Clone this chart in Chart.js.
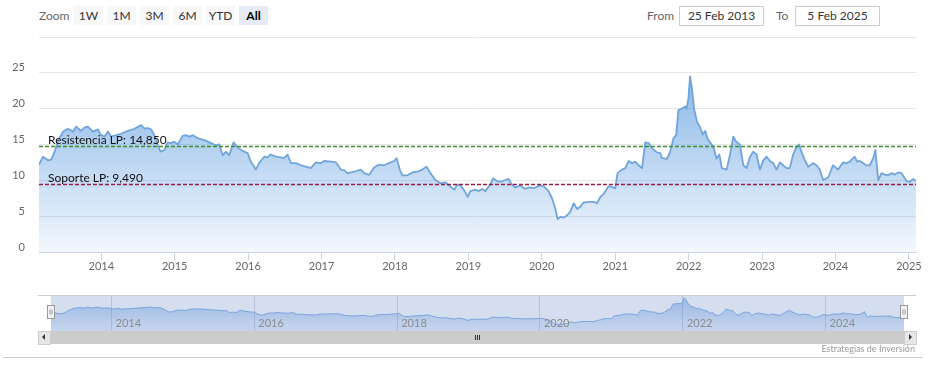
<!DOCTYPE html>
<html>
<head>
<meta charset="utf-8">
<script src="https://cdn.jsdelivr.net/npm/chart.js@4.4.1/dist/chart.umd.min.js"></script>
<style>
  body { margin: 0; width: 931px; height: 373px; position: relative; overflow: hidden; background: #fff; font-family: Lato, sans-serif; }
  .abs { position: absolute; }
  .lbl { position: absolute; top: 6px; height: 19px; line-height: 19px; font-size: 12px; color: #666; }
  .btn { position: absolute; top: 6px; width: 29px; height: 19px; line-height: 19px; text-align: center; font-size: 12px; color: #333; background: #f7f7f7; }
  .btn.on { background: #e6ebf5; font-weight: bold; color: #000; }
  .inp { position: absolute; top: 6px; width: 83px; height: 18px; line-height: 18px; border: 1px solid #ccc; text-align: center; font-size: 12px; color: #333; }
</style>
</head>
<body>
<div class="lbl" style="left:39px">Zoom</div>
<div class="btn" style="left:74px">1W</div>
<div class="btn" style="left:107px">1M</div>
<div class="btn" style="left:140px">3M</div>
<div class="btn" style="left:173px">6M</div>
<div class="btn" style="left:206px">YTD</div>
<div class="btn on" style="left:239px">All</div>
<div class="lbl" style="left:647px">From</div>
<div class="inp" style="left:679px">25 Feb 2013</div>
<div class="lbl" style="left:776px">To</div>
<div class="inp" style="left:795px">5 Feb 2025</div>

<canvas id="mainChart" class="abs" style="left:0;top:0" width="931" height="290"></canvas>
<canvas id="navChart" class="abs" style="left:0;top:290px" width="931" height="45"></canvas>

<!-- scrollbar -->
<div class="abs" style="left:38px;top:331px;width:878px;height:13px;background:#f2f2f2"></div>
<div class="abs" style="left:50px;top:331px;width:854px;height:13px;background:#cccccc"></div>
<div class="abs" style="left:38px;top:331px;width:11px;height:12px;background:#e6e6e6;border:1px solid #cccccc"></div>
<div class="abs" style="left:42px;top:334px;width:0;height:0;border-top:3px solid transparent;border-bottom:3px solid transparent;border-right:3px solid #333"></div>
<div class="abs" style="left:904px;top:331px;width:11px;height:12px;background:#e6e6e6;border:1px solid #cccccc"></div>
<div class="abs" style="left:909px;top:334px;width:0;height:0;border-top:3px solid transparent;border-bottom:3px solid transparent;border-left:3px solid #333"></div>
<div class="abs" style="left:475px;top:335px;width:1px;height:5px;background:#333"></div>
<div class="abs" style="left:477px;top:335px;width:1px;height:5px;background:#333"></div>
<div class="abs" style="left:479px;top:335px;width:1px;height:5px;background:#333"></div>

<div class="abs" style="right:16px;top:343px;font-size:9px;color:#999">Estrategias de Inversión</div>
<div class="abs" style="left:3px;top:357px;width:920px;height:1px;background:#cccccc"></div>

<script>
  const startDate = '2013-02-25';
  const endDate = '2025-02-05';

  const dates = [
    '2013-02-25', '2013-03-17', '2013-04-10', '2013-04-27', '2013-05-14', '2013-05-31', '2013-06-25', '2013-07-19',
    '2013-08-13', '2013-08-29', '2013-09-23', '2013-10-10', '2013-10-26', '2013-11-20', '2013-12-15',
    '2014-01-01', '2014-01-17', '2014-02-03', '2014-02-19', '2014-03-16', '2014-04-10', '2014-05-13', '2014-06-15',
    '2014-07-18', '2014-08-04', '2014-08-20', '2014-09-06', '2014-09-22', '2014-10-09', '2014-10-22', '2014-11-10',
    '2014-11-27', '2014-12-13', '2014-12-30',
    '2015-01-16', '2015-02-10', '2015-02-26', '2015-03-15', '2015-04-01', '2015-04-25', '2015-05-28', '2015-07-01',
    '2015-07-25', '2015-08-11', '2015-08-28', '2015-09-13', '2015-09-29', '2015-10-21', '2015-11-10', '2015-12-05',
    '2015-12-30',
    '2016-01-15', '2016-02-09', '2016-02-25', '2016-03-21', '2016-04-07', '2016-04-23', '2016-05-18', '2016-06-12',
    '2016-06-29', '2016-07-16', '2016-08-01', '2016-08-26', '2016-09-20', '2016-10-15', '2016-11-08', '2016-12-03',
    '2016-12-28',
    '2017-01-13', '2017-02-16', '2017-03-13', '2017-04-07', '2017-04-23', '2017-05-10', '2017-06-12', '2017-07-15',
    '2017-07-31', '2017-08-25', '2017-09-19', '2017-10-13', '2017-11-07', '2017-12-02', '2017-12-27',
    '2018-01-09', '2018-01-26', '2018-02-07', '2018-03-04', '2018-03-28', '2018-04-22', '2018-05-17', '2018-06-07',
    '2018-06-27', '2018-07-21', '2018-08-15', '2018-09-09', '2018-10-04', '2018-10-24', '2018-11-06', '2018-11-23',
    '2018-12-09', '2018-12-29',
    '2019-01-11', '2019-02-05', '2019-02-21', '2019-03-10', '2019-03-26', '2019-04-20', '2019-05-04', '2019-05-24',
    '2019-06-09', '2019-07-04', '2019-07-20', '2019-08-06', '2019-08-23', '2019-09-16', '2019-10-11', '2019-10-28',
    '2019-11-22', '2019-12-25',
    '2020-01-10', '2020-02-04', '2020-02-21', '2020-03-08', '2020-03-20', '2020-04-03', '2020-04-19', '2020-05-06',
    '2020-05-22', '2020-06-08', '2020-06-25', '2020-07-11', '2020-07-27', '2020-08-21', '2020-09-15', '2020-10-02',
    '2020-10-19', '2020-11-04', '2020-11-29',
    '2021-01-01', '2021-01-12', '2021-02-03', '2021-02-20', '2021-03-08', '2021-03-25', '2021-04-10', '2021-04-27',
    '2021-05-14', '2021-05-30', '2021-06-16', '2021-07-02', '2021-07-27', '2021-08-13', '2021-08-21', '2021-09-15',
    '2021-10-01', '2021-10-18', '2021-10-31', '2021-11-11', '2021-11-28', '2021-12-14', '2021-12-22', '2021-12-31',
    '2022-01-08', '2022-01-17', '2022-01-28', '2022-02-11', '2022-02-27', '2022-03-12', '2022-03-24', '2022-04-04',
    '2022-04-17', '2022-05-04', '2022-05-20', '2022-06-03', '2022-06-15', '2022-07-09', '2022-07-26', '2022-08-11',
    '2022-08-28', '2022-09-13', '2022-09-30', '2022-10-16', '2022-11-02', '2022-11-18', '2022-12-05', '2022-12-21',
    '2023-01-07', '2023-01-24', '2023-02-09', '2023-02-26', '2023-03-14', '2023-03-31', '2023-04-16', '2023-05-03',
    '2023-05-19', '2023-06-05', '2023-06-22', '2023-07-05', '2023-07-16', '2023-08-02', '2023-08-19', '2023-09-12',
    '2023-09-29', '2023-10-15', '2023-11-01', '2023-11-26', '2023-12-20',
    '2024-01-14', '2024-02-08', '2024-02-25', '2024-03-12', '2024-04-06', '2024-04-18', '2024-05-01', '2024-05-18',
    '2024-06-03', '2024-06-20', '2024-07-07', '2024-07-18', '2024-08-01', '2024-08-18', '2024-09-03', '2024-09-20',
    '2024-10-06', '2024-10-23', '2024-11-08', '2024-11-25', '2024-12-20',
    '2025-01-05', '2025-01-22', '2025-02-05'
  ];

  const prices = [
    12.2, 13.3, 12.8, 12.9, 14.0, 15.6, 16.8, 17.2,
    16.8, 17.5, 16.9, 17.4, 17.5, 16.8, 17.1,
    16.3, 16.1, 16.8, 16.1, 16.3, 16.5, 16.9, 17.2,
    17.7, 17.2, 17.3, 17.1, 16.3, 14.9, 14.0, 14.2,
    15.3, 15.2, 15.4,
    15.0, 16.2, 16.3, 16.1, 16.3, 15.9, 15.6, 15.2,
    14.9, 15.0, 13.5, 14.0, 13.5, 15.3, 14.6, 14.1,
    13.8,
    12.6, 11.5, 12.4, 13.3, 13.2, 13.6, 13.3, 13.2,
    13.1, 13.6, 12.4, 12.4, 12.1, 11.9, 11.7, 12.5,
    12.4,
    12.7, 12.6, 12.5, 11.5, 11.4, 11.0, 11.2, 11.5,
    11.0, 10.75, 11.8, 12.2, 12.1, 12.4, 12.7,
    13.1, 11.4, 10.7, 10.7, 11.1, 11.2, 11.5, 11.9,
    11.0, 10.05, 9.6, 9.7, 9.1, 8.7, 9.4, 9.3,
    8.7, 7.7,
    8.5, 8.7, 8.5, 8.8, 8.5, 9.4, 10.3, 9.9,
    9.8, 10.05, 10.2, 9.4, 9.0, 9.3, 8.8, 9.0,
    8.9, 9.3,
    9.2, 8.5, 7.5, 6.1, 4.6, 4.9, 4.8, 5.1,
    5.6, 6.8, 6.0, 6.3, 6.9, 7.0, 7.0, 6.8,
    7.7, 8.1, 9.2,
    8.9, 11.0, 11.5, 11.7, 12.7, 12.4, 12.6, 12.1,
    11.7, 15.3, 15.2, 14.5, 13.9, 13.8, 13.1, 13.0,
    14.0, 15.9, 16.3, 19.8, 20.0, 20.3, 20.0, 21.5,
    24.5, 22.9, 20.0, 18.2, 17.4, 16.4, 16.9, 15.9,
    15.3, 14.7, 13.0, 13.6, 11.7, 11.5, 13.6, 16.1,
    15.3, 15.0, 12.1, 11.7, 13.3, 14.0, 13.6, 11.5,
    12.8, 13.3, 12.7, 12.4, 11.5, 12.5, 12.1, 11.7,
    11.7, 13.6, 14.7, 15.0, 14.0, 12.8, 11.9, 12.4,
    12.1, 11.5, 10.05, 10.4, 12.1,
    11.5, 12.5, 12.4, 12.6, 13.3, 12.6, 12.7, 12.4,
    12.1, 12.1, 13.1, 14.25, 10.05, 11.0, 10.8, 10.7,
    11.0, 10.8, 11.1, 11.0, 9.9,
    9.8, 10.2, 9.9
  ];

  const yTicks = [0, 5, 10, 15, 20, 25, 30];
  const yearTicks = [2014, 2015, 2016, 2017, 2018, 2019, 2020, 2021, 2022, 2023, 2024, 2025];
  const navYearTicks = [2014, 2016, 2018, 2020, 2022, 2024];

  const resistance = 14.85;
  const support = 9.49;
  const resistanceLabel = 'Resistencia LP: 14,850';
  const supportLabel = 'Soporte LP: 9,490';

  Chart.defaults.font.family = 'Lato';
  Chart.defaults.color = '#666';

  const points = dates.map((d, i) => ({ x: Date.parse(d), y: prices[i] }));
  const yearStart = y => Date.UTC(y, 0, 1);

  // dashed support / resistance lines with their labels
  const plotLines = {
    id: 'plotLines',
    afterDatasetsDraw(chart) {
      const { ctx, chartArea: a, scales: { y } } = chart;
      [
        [resistance, '#3f8f2f', resistanceLabel],
        [support, '#9b1c46', supportLabel]
      ].forEach(([v, color, text]) => {
        const py = Math.round(y.getPixelForValue(v)) + 0.5;
        ctx.save();
        ctx.strokeStyle = color;
        ctx.lineWidth = 1.5;
        ctx.setLineDash([4, 2]);
        ctx.beginPath();
        ctx.moveTo(a.left, py);
        ctx.lineTo(a.right, py);
        ctx.stroke();
        ctx.setLineDash([]);
        ctx.fillStyle = '#111';
        ctx.font = '12px Lato';
        ctx.fillText(text, a.left + 9, py - 3);
        ctx.restore();
      });
    }
  };

  let mainCanvas = document.getElementById('mainChart');
  let mainChart = new Chart(mainCanvas, {
    type: 'line',
    data: {
      datasets: [{
        data: points,
        borderColor: '#6fa5dc',
        borderWidth: 1.8,
        borderJoinStyle: 'round',
        pointRadius: 0,
        tension: 0,
        fill: 'origin',
        backgroundColor: function (context) {
          const { ctx, chartArea } = context.chart;
          if (!chartArea) return 'rgba(91,155,224,0.4)';
          const g = ctx.createLinearGradient(0, chartArea.top, 0, chartArea.bottom);
          g.addColorStop(0, 'rgba(91,155,224,0.85)');
          g.addColorStop(1, 'rgba(91,155,224,0.08)');
          return g;
        }
      }]
    },
    options: {
      responsive: false,
      animation: false,
      devicePixelRatio: 1,
      layout: { padding: { left: 0, top: 37, right: 15, bottom: 0 } },
      plugins: { legend: { display: false }, tooltip: { enabled: false } },
      scales: {
        x: {
          type: 'linear',
          min: Date.parse(startDate),
          max: Date.parse(endDate),
          afterBuildTicks: scale => { scale.ticks = yearTicks.map(y => ({ value: yearStart(y) })); },
          afterFit: scale => { scale.height = 38; },
          grid: { drawOnChartArea: false, drawTicks: true, tickLength: 8, color: '#ccd6eb' },
          border: { color: '#ccd6eb' },
          ticks: {
            autoSkip: false, maxRotation: 0, padding: 0, color: '#666', font: { size: 11 },
            callback: v => new Date(v).getUTCFullYear()
          }
        },
        y: {
          min: 0,
          max: 30,
          afterBuildTicks: scale => { scale.ticks = yTicks.map(v => ({ value: v })); },
          afterFit: scale => { scale.width = 39; },
          grid: { color: '#e6e6e6', drawTicks: false },
          border: { display: false },
          ticks: {
            padding: 14, labelOffset: -5, color: '#666', font: { size: 11 },
            callback: v => (v === 30 ? '' : v)
          }
        }
      }
    },
    plugins: [plotLines]
  });

  // navigator: background mask, year labels, outline and handles
  const navigatorDecor = {
    id: 'navigatorDecor',
    beforeDraw(chart) {
      const { ctx, chartArea: a } = chart;
      ctx.save();
      ctx.fillStyle = '#d5deef';
      ctx.fillRect(a.left, a.top, a.right - a.left, a.bottom - a.top);
      ctx.restore();
    },
    afterDatasetsDraw(chart) {
      const { ctx, chartArea: a, scales: { x } } = chart;
      ctx.save();
      ctx.fillStyle = '#8c8c8c';
      ctx.font = '11px Lato';
      ctx.textBaseline = 'middle';
      navYearTicks.forEach(yr => {
        ctx.fillText(String(yr), x.getPixelForValue(yearStart(yr)) + 4, a.bottom - 8);
      });
      ctx.restore();
    },
    afterDraw(chart) {
      const { ctx, chartArea: a } = chart;
      ctx.save();
      ctx.strokeStyle = '#cccccc';
      ctx.lineWidth = 1;
      ctx.beginPath();
      ctx.moveTo(38, a.top + 0.5);
      ctx.lineTo(916, a.top + 0.5);
      ctx.stroke();
      [a.left, a.right].forEach(hx => {
        const x = Math.round(hx) - 3.5;
        const y = a.top + 10.5;
        ctx.fillStyle = '#f2f2f2';
        ctx.strokeStyle = '#999';
        ctx.fillRect(x, y, 7, 13);
        ctx.strokeRect(x, y, 7, 13);
        ctx.beginPath();
        ctx.moveTo(x + 2.5, y + 4); ctx.lineTo(x + 2.5, y + 9);
        ctx.moveTo(x + 4.5, y + 4); ctx.lineTo(x + 4.5, y + 9);
        ctx.stroke();
      });
      ctx.restore();
    }
  };

  let navCanvas = document.getElementById('navChart');
  let navChart = new Chart(navCanvas, {
    type: 'line',
    data: {
      datasets: [{
        data: points,
        borderColor: '#7aa5dc',
        borderWidth: 1,
        pointRadius: 0,
        tension: 0,
        fill: 'origin',
        backgroundColor: function (context) {
          const { ctx, chartArea } = context.chart;
          if (!chartArea) return 'rgba(100,150,220,0.3)';
          const g = ctx.createLinearGradient(0, chartArea.top, 0, chartArea.bottom);
          g.addColorStop(0, 'rgba(100,150,220,0.55)');
          g.addColorStop(1, 'rgba(100,150,220,0.12)');
          return g;
        }
      }]
    },
    options: {
      responsive: false,
      animation: false,
      devicePixelRatio: 1,
      layout: { padding: { left: 51, top: 5, right: 27, bottom: 0 } },
      plugins: { legend: { display: false }, tooltip: { enabled: false } },
      scales: {
        x: {
          type: 'linear',
          min: Date.parse(startDate),
          max: Date.parse(endDate),
          afterBuildTicks: scale => { scale.ticks = navYearTicks.map(y => ({ value: yearStart(y) })); },
          afterFit: scale => { scale.height = 4; },
          grid: { drawTicks: false, color: 'rgba(140,150,185,0.4)' },
          border: { display: false },
          ticks: { display: false }
        },
        y: { display: false, min: 0, max: 26.5 }
      }
    },
    plugins: [navigatorDecor]
  });
</script>
</body>
</html>
